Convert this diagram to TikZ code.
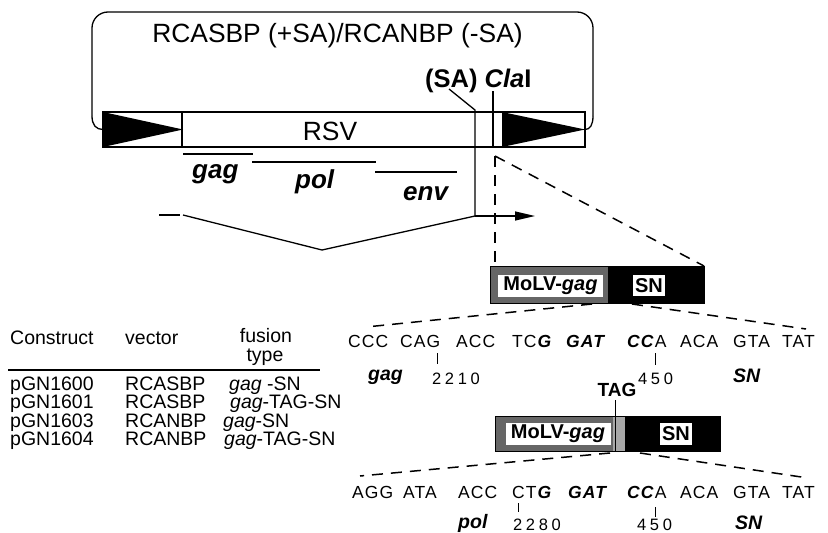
\documentclass[tikz,border=0pt]{standalone}
\usepackage{fontspec}
\setmainfont{Liberation Sans}
\newfontfamily\seqfont[LetterSpace=6]{Liberation Sans}
\newfontfamily\numfont[LetterSpace=22]{Liberation Sans}
\usetikzlibrary{arrows.meta}
\newcommand{\bi}[1]{\textbf{\textit{#1}}}

\begin{document}
\begin{tikzpicture}[x=1pt,y=-1pt,
  linea/.style={line width=1.3pt},
  tratt/.style={line width=1.5pt, dash pattern=on 11pt off 8pt},
  etich/.style={inner sep=0pt, anchor=base, font=\fontsize{26.4}{28}\selectfont},
  gene/.style={inner sep=0pt, anchor=base west, font=\fontsize{26}{28}\selectfont\bfseries\itshape},
  tab/.style={inner sep=0pt, anchor=base west, font=\fontsize{19.5}{20}\selectfont},
  seq/.style={inner sep=0pt, anchor=base west, font=\fontsize{17.5}{18}\seqfont},
  num/.style={inner sep=0pt, anchor=base west, font=\fontsize{16.5}{17}\numfont},
  nome/.style={inner sep=0pt, anchor=base west, font=\fontsize{19.5}{20}\selectfont\bfseries\itshape},
  targa/.style={fill=white, inner sep=0pt, font=\fontsize{20}{22}\selectfont\bfseries}]

% Colori
\definecolor{retino}{gray}{0.40}
\definecolor{retinoChiaro}{gray}{0.66}

\useasboundingbox (0,0) rectangle (828,533);

% Cornice del vettore
\draw[linea, rounded corners=16pt] (92,116) -- (92,12) -- (593,12) -- (593,116);
\draw[linea] (92,116) .. controls (92,125) and (96,129.5) .. (103,129.5);
\draw[linea] (593,116) .. controls (593,125) and (590,129.5) .. (585,129.5);
\node[etich] (titolo) at (337.5,42) {RCASBP (+SA)/RCANBP (-SA)};

% Barra RSV con LTR
\draw[linea, fill=white] (103,112) rectangle (585,147);
\draw[linea] (182,112) -- (182,147);
\fill (103,112) -- (183,129.5) -- (103,147) -- cycle;
\fill (502,112) -- (585,129.5) -- (502,147) -- cycle;
\node[etich] (rsv) at (330,140) {RSV};

% Siti SA e ClaI
\node[inner sep=0pt, anchor=base west, font=\fontsize{25.5}{27}\selectfont\bfseries] (sito) at (425,87) {(SA) \textit{Cla}I};
\coordinate (saTop) at (449,89);
\coordinate (saBar) at (475,110);
\coordinate (saGiu) at (475,216);
\coordinate (claTop) at (493,91);
\coordinate (claBar) at (493,147);
\draw[linea] (saTop) -- (saBar) -- (saGiu);
\draw[linea] (claTop) -- (claBar);

% Geni
\draw[linea] (183,154) -- (253,154);
\draw[linea] (252,162) -- (376,162);
\draw[linea] (375,172) -- (457,172);
\node[gene] (gag) at (192,178) {gag};
\node[gene] (pol) at (295,188) {pol};
\node[gene] (env) at (403,200) {env};

% Splicing
\coordinate (spA) at (159,215);
\coordinate (spB) at (180,215);
\coordinate (spC) at (183,215);
\coordinate (spV) at (322,250);
\draw[linea] (spA) -- (spB);
\draw[linea] (spC) -- (spV) -- (saGiu);
\draw[linea, -{Triangle[length=20pt,width=9pt]}] (saGiu) -- (535,216);

% Ingrandimento dal sito ClaI
\coordinate (cla) at (495,156);
\draw[tratt] (cla) -- (495,266);
\draw[tratt] (cla) -- (704,266);

% Fusione 1
\fill[retino] (490,266) rectangle (608,303);
\fill (608,266) rectangle (704,303);
\draw[line width=1pt] (490,266) rectangle (704,303);
\node[targa, minimum width=105pt, minimum height=22pt] (mo1) at (550.5,286) {MoLV-\textit{gag}};
\node[targa, minimum width=32pt, minimum height=21pt] (sn1) at (649,285.5) {SN};
\draw[tratt] (592,304) -- (366,327);
\draw[tratt] (632,304) -- (806,329);

% Sequenza 1
\node[seq] (a1) at (348,347) {CCC};
\node[seq] (a2) at (400,347) {CAG};
\node[seq] (a3) at (456,347) {ACC};
\node[seq] (a4) at (512,347) {TC\bi{G}};
\node[seq] (a5) at (566,347) {\bi{GAT}};
\node[seq] (a6) at (627,347) {\bi{CC}A};
\node[seq] (a7) at (680,347) {ACA};
\node[seq] (a8) at (733,347) {GTA};
\node[seq] (a9) at (782,347) {TAT};
\draw[line width=1pt] (437,353) -- (437,364);
\draw[line width=1pt] (655,353) -- (655,365);
\node[nome] (gag1) at (368,380) {gag};
\node[num] (n2210) at (432,384) {2210};
\node[num] (n450a) at (638,384) {450};
\node[nome] (sn1b) at (733,382) {SN};

% Fusione 2 con TAG
\fill[retino] (495,416) rectangle (613,451);
\fill[retinoChiaro] (613,416) rectangle (625,451);
\fill (625,416) rectangle (720,451);
\draw[line width=1pt] (495,416) rectangle (720,451);
\node[targa, minimum width=105pt, minimum height=22pt] (mo2) at (558,434) {MoLV-\textit{gag}};
\node[targa, minimum width=32pt, minimum height=22pt] (sn2) at (676,434) {SN};
\node[inner sep=0pt, anchor=base, font=\fontsize{19}{20}\selectfont\bfseries] (tag) at (617,396) {TAG};
\draw[line width=1pt] (615,400) -- (615,452);
\draw[tratt] (610,453) -- (360,476);
\draw[tratt] (640,453) -- (808,478);

% Sequenza 2
\node[seq] (b1) at (352,498) {AGG};
\node[seq] (b2) at (403,498) {ATA};
\node[seq] (b3) at (458,498) {ACC};
\node[seq] (b4) at (512,498) {CT\bi{G}};
\node[seq] (b5) at (568,498) {\bi{GAT}};
\node[seq] (b6) at (627,498) {\bi{CC}A};
\node[seq] (b7) at (680,498) {ACA};
\node[seq] (b8) at (733,498) {GTA};
\node[seq] (b9) at (782,498) {TAT};
\draw[line width=1pt] (518,503) -- (518,512);
\draw[line width=1pt] (655,507) -- (655,517);
\node[nome] (pol2) at (458,528) {pol};
\node[num] (n2280) at (513,530.5) {2280};
\node[num] (n450b) at (637,530.5) {450};
\node[nome] (sn2b) at (735,529) {SN};

% Tabella dei costrutti
\node[tab] (hC) at (10,344) {Construct};
\node[tab] (hV) at (125,344) {vector};
\node[tab, anchor=base] (hF) at (266,342) {fusion};
\node[tab, anchor=base] (hT) at (265,361) {type};
\draw[line width=2.5pt] (8,370) -- (320,370);
\node[tab] (c1) at (10,390) {pGN1600};
\node[tab] (v1) at (125,390) {RCASBP};
\node[tab] (f1) at (229,390) {\textit{gag} -SN};
\node[tab] (c2) at (10,408.5) {pGN1601};
\node[tab] (v2) at (125,408.5) {RCASBP};
\node[tab] (f2) at (230,408.5) {\textit{gag}-TAG-SN};
\node[tab] (c3) at (10,427) {pGN1603};
\node[tab] (v3) at (125,427) {RCANBP};
\node[tab] (f3) at (223,427) {\textit{gag}-SN};
\node[tab] (c4) at (10,445.5) {pGN1604};
\node[tab] (v4) at (125,445.5) {RCANBP};
\node[tab] (f4) at (224,445.5) {\textit{gag}-TAG-SN};

\end{tikzpicture}
\end{document}
